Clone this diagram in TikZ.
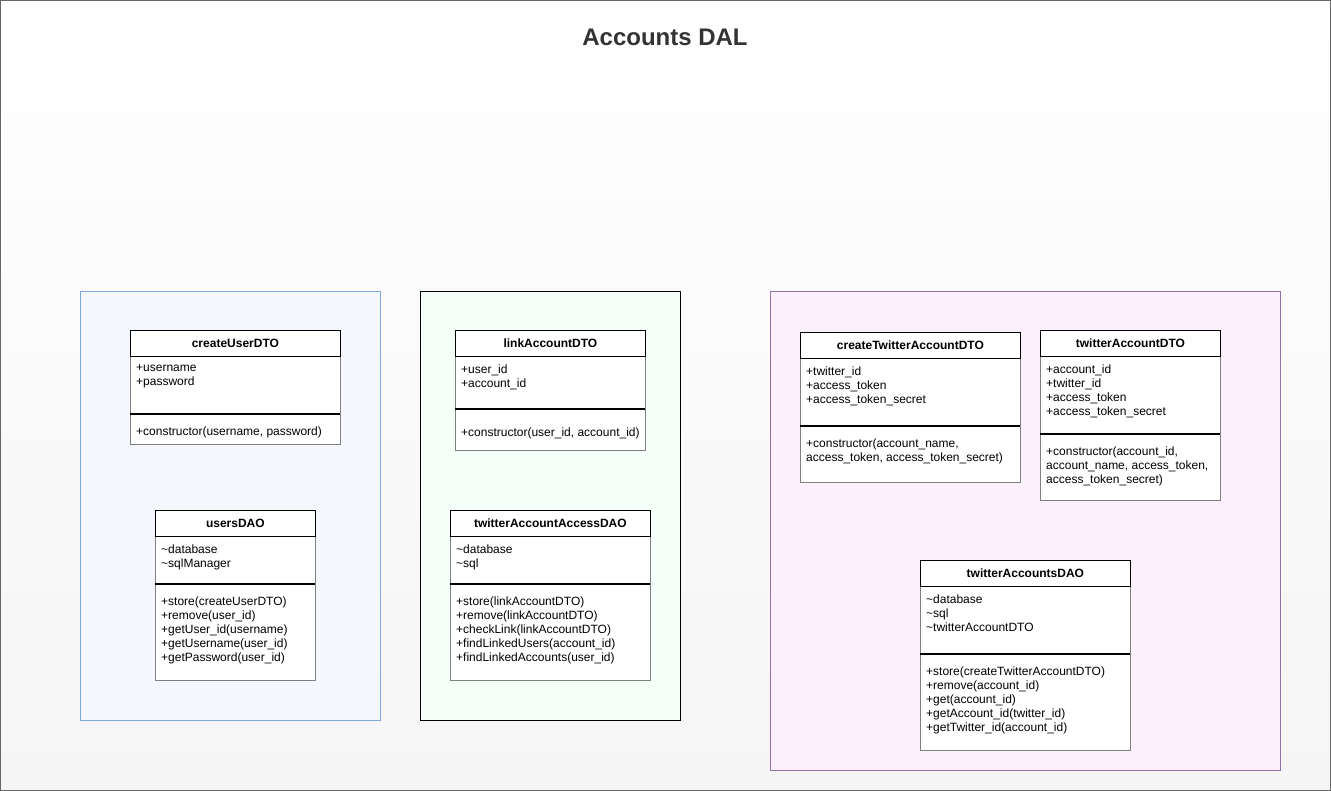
\documentclass[tikz,border=0pt]{standalone}
\usepackage{fontspec}
\setmainfont{Liberation Sans}
\usetikzlibrary{positioning}

\definecolor{bggray}{HTML}{F5F5F5}
\definecolor{outergray}{HTML}{666666}
\definecolor{titlegray}{HTML}{333333}
\definecolor{bodygray}{HTML}{808080}
\definecolor{bluebord}{HTML}{7EA6E0}
\definecolor{bluefill}{HTML}{F4F7FC}
\definecolor{greenfill}{HTML}{F4FFF9}
\definecolor{purplebord}{HTML}{9673A6}
\definecolor{purplefill}{HTML}{FCF0FC}

\begin{document}
\begin{tikzpicture}[x=1pt,y=-1pt]

  \tikzstyle{panel}=[anchor=north west,inner sep=0pt,line width=1pt]
  \tikzstyle{classhead}=[draw=black,fill=white,anchor=north west,minimum height=26pt,inner sep=0pt,line width=0.8pt,font=\fontsize{12}{14}\selectfont\bfseries]
  \tikzstyle{classbody}=[draw=bodygray,fill=white,anchor=north west,inner sep=0pt,line width=0.8pt]
  % nudged down so the first line sits like the reference
  \tikzstyle{members}=[anchor=north west,align=left,inner sep=0pt,yshift=-1.5pt,font=\fontsize{12}{14}\selectfont,execute at begin node=\strut]
  \tikzstyle{sepline}=[line width=1.2pt]

  \useasboundingbox (0,0) rectangle (1331,791);
  \shade[top color=white,bottom color=bggray] (0,0) rectangle (1331,791);
  \draw[outergray,line width=1pt] (0.5,0.5) rectangle (1330.5,790.5);

  \node[font=\fontsize{24}{28}\selectfont\bfseries,text=titlegray] (title) at (665,37) {Accounts DAL};

  % panels
  \node[panel,draw=bluebord,fill=bluefill,minimum width=300pt,minimum height=429pt] (userspanel) at (80,291) {};
  \node[panel,draw=black,fill=greenfill,minimum width=260pt,minimum height=429pt] (linkpanel) at (420,291) {};
  \node[panel,draw=purplebord,fill=purplefill,minimum width=510pt,minimum height=479pt] (twitterpanel) at (770,291) {};

  % createUserDTO
  \node[classbody,minimum width=210pt,minimum height=88pt] (cubody) at (130,356) {};
  \node[classhead,minimum width=210pt] (cuhead) at (130,330) {createUserDTO};
  \node[members] (cuattr) at (136,363.2) {+username\\+password};
  \draw[sepline] (130,414) -- (340,414);
  \node[members] (cumeth) at (136,424.2) {+constructor(username, password)};

  % usersDAO
  \node[classbody,minimum width=160pt,minimum height=144pt] (udbody) at (155,536) {};
  \node[classhead,minimum width=160pt] (udhead) at (155,510) {usersDAO};
  \node[members] (udattr) at (161,543.2) {\textasciitilde database\\\textasciitilde sqlManager};
  \draw[sepline] (155,584) -- (315,584);
  \node[members] (udmeth) at (161,595.2) {+store(createUserDTO)\\+remove(user\_id)\\+getUser\_id(username)\\+getUsername(user\_id)\\+getPassword(user\_id)};

  % linkAccountDTO
  \node[classbody,minimum width=190pt,minimum height=94pt] (labody) at (455,356) {};
  \node[classhead,minimum width=190pt] (lahead) at (455,330) {linkAccountDTO};
  \node[members] (laattr) at (461,363.2) {+user\_id\\+account\_id};
  \draw[sepline] (455,409) -- (645,409);
  \node[members] (lameth) at (461,425.2) {+constructor(user\_id, account\_id)};

  % twitterAccountAccessDAO
  \node[classbody,minimum width=200pt,minimum height=144pt] (tadbody) at (450,536) {};
  \node[classhead,minimum width=200pt] (tadhead) at (450,510) {twitterAccountAccessDAO};
  \node[members] (tadattr) at (456,543.2) {\textasciitilde database\\\textasciitilde sql};
  \draw[sepline] (450,584) -- (650,584);
  \node[members] (tadmeth) at (456,595.2) {+store(linkAccountDTO)\\+remove(linkAccountDTO)\\+checkLink(linkAccountDTO)\\+findLinkedUsers(account\_id)\\+findLinkedAccounts(user\_id)};

  % createTwitterAccountDTO
  \node[classbody,minimum width=220pt,minimum height=124pt] (ctbody) at (800,358) {};
  \node[classhead,minimum width=220pt] (cthead) at (800,332) {createTwitterAccountDTO};
  \node[members] (ctattr) at (806,365.2) {+twitter\_id\\+access\_token\\+access\_token\_secret};
  \draw[sepline] (800,426) -- (1020,426);
  \node[members] (ctmeth) at (806,437.2) {+constructor(account\_name,\\access\_token, access\_token\_secret)};

  % twitterAccountDTO
  \node[classbody,minimum width=180pt,minimum height=144pt] (tabody) at (1040,356) {};
  \node[classhead,minimum width=180pt] (tahead) at (1040,330) {twitterAccountDTO};
  \node[members] (taattr) at (1046,363.2) {+account\_id\\+twitter\_id\\+access\_token\\+access\_token\_secret};
  \draw[sepline] (1040,434) -- (1220,434);
  \node[members] (tameth) at (1046,445.2) {+constructor(account\_id,\\account\_name, access\_token,\\access\_token\_secret)};

  % twitterAccountsDAO
  \node[classbody,minimum width=210pt,minimum height=164pt] (tsbody) at (920,586) {};
  \node[classhead,minimum width=210pt] (tshead) at (920,560) {twitterAccountsDAO};
  \node[members] (tsattr) at (926,593.2) {\textasciitilde database\\\textasciitilde sql\\\textasciitilde twitterAccountDTO};
  \draw[sepline] (920,654) -- (1130,654);
  \node[members] (tsmeth) at (926,665.2) {+store(createTwitterAccountDTO)\\+remove(account\_id)\\+get(account\_id)\\+getAccount\_id(twitter\_id)\\+getTwitter\_id(account\_id)};

\end{tikzpicture}
\end{document}
